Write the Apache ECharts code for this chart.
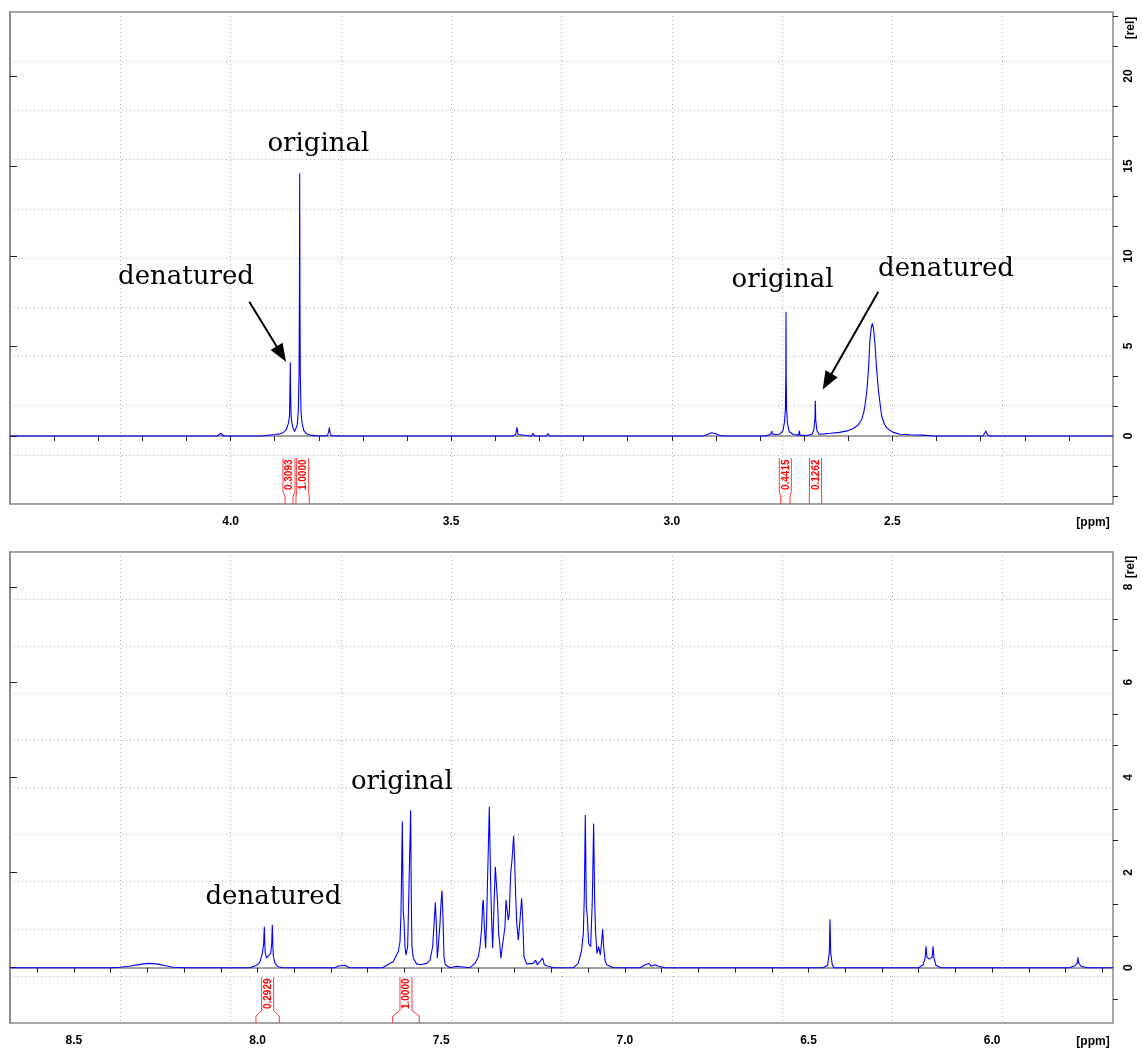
<!DOCTYPE html>
<html>
<head>
<meta charset="utf-8">
<title>1H NMR – original vs. denatured</title>
<script src="https://cdn.jsdelivr.net/npm/echarts@6/dist/echarts.min.js"></script>
<style>
  html, body { margin: 0; padding: 0; background: #ffffff; }
  #chart { width: 1142px; height: 1050px; }
</style>
</head>
<body>
<div id="chart"></div>
<script>
// ---------- aliphatic region (upper panel) ----------
const topRange = [2.0, 4.5];                 // ppm shown
const topYRange = [-3.778, 23.556];          // rel. intensity shown
const topXTicks = [4.4, 4.3, 4.2, 4.1, 4.0, 3.9, 3.8, 3.7, 3.6, 3.5, 3.4, 3.3, 3.2, 3.1, 3.0,
                   2.9, 2.8, 2.7, 2.6, 2.5, 2.4, 2.3, 2.2, 2.1];
const topXLabels = [4.0, 3.5, 3.0, 2.5];
const topYLabels = [0, 5, 10, 15, 20];
const topYMinor = [-3.33, -1.67, 1.67, 3.33, 6.67, 8.33, 11.67, 13.33, 16.67, 18.33, 21.67, 23.33];

// [ppm, intensity]
const topSpectrum = [
  [4.50, 0.00], [4.30, 0.00], [4.03, 0.00], [4.026, 0.05], [4.0224, 0.15], [4.019, 0.05], [4.015, 0.00],
  [3.93, 0.00], [3.915, 0.04], [3.90, 0.08], [3.888, 0.12], [3.880, 0.20], [3.874, 0.35], [3.869, 0.70],
  [3.8665, 1.10], [3.8655, 2.60], [3.8647, 4.10], [3.8640, 2.40], [3.8630, 1.20], [3.861, 0.70],
  [3.858, 0.40], [3.855, 0.25], [3.852, 0.30], [3.849, 0.60], [3.8465, 1.40], [3.8448, 3.60],
  [3.8440, 8.00], [3.8434, 14.60], [3.8428, 7.50], [3.8420, 3.40], [3.8405, 1.40], [3.838, 0.70],
  [3.834, 0.30], [3.828, 0.12], [3.82, 0.05], [3.80, 0.00], [3.781, 0.02], [3.778, 0.20], [3.7763, 0.47],
  [3.7748, 0.20], [3.772, 0.02], [3.75, 0.00], [3.7425, 0.00], [3.7407, 0.09], [3.739, 0.00],
  [3.705, 0.00], [3.7029, 0.08], [3.701, 0.00], [3.682, 0.00], [3.6802, 0.07], [3.678, 0.00],
  [3.66, 0.00], [3.6575, 0.09], [3.655, 0.00], [3.36, 0.00], [3.354, 0.08], [3.3509, 0.48],
  [3.3485, 0.08], [3.344, 0.00], [3.318, 0.00], [3.3146, 0.15], [3.311, 0.00], [3.284, 0.00],
  [3.2806, 0.14], [3.277, 0.00], [2.93, 0.00], [2.92, 0.07], [2.91, 0.18], [2.90, 0.12], [2.89, 0.02],
  [2.88, 0.00], [2.79, 0.00], [2.78, 0.05], [2.7745, 0.12], [2.7736, 0.28], [2.7725, 0.12], [2.765, 0.08],
  [2.755, 0.10], [2.748, 0.30], [2.7445, 0.80], [2.7425, 1.50], [2.7416, 3.50], [2.7412, 6.90],
  [2.7407, 3.20], [2.7398, 1.50], [2.7378, 0.70], [2.734, 0.25], [2.725, 0.08], [2.7125, 0.05],
  [2.711, 0.28], [2.7095, 0.05], [2.695, 0.03], [2.682, 0.10], [2.678, 0.35], [2.6755, 1.00],
  [2.6747, 1.96], [2.6738, 0.90], [2.671, 0.30], [2.666, 0.10], [2.655, 0.12], [2.64, 0.15],
  [2.62, 0.20], [2.60, 0.30], [2.589, 0.42], [2.578, 0.60], [2.570, 0.90], [2.565, 1.30], [2.561, 1.90],
  [2.558, 2.50], [2.554, 3.80], [2.551, 5.30], [2.548, 6.00], [2.5456, 6.25], [2.543, 6.00],
  [2.5394, 5.10], [2.536, 3.80], [2.532, 2.60], [2.528, 1.80], [2.5243, 1.10], [2.518, 0.65],
  [2.5129, 0.45], [2.505, 0.30], [2.498, 0.20], [2.483, 0.10], [2.46, 0.07], [2.43, 0.05], [2.419, 0.03],
  [2.41, 0.00], [2.295, 0.00], [2.2905, 0.08], [2.2878, 0.28], [2.285, 0.08], [2.28, 0.00], [2.00, 0.00]
];

// integral regions [from ppm, to ppm] and their values
const topIntegralRanges = [[3.8767, 3.8586], [3.8518, 3.8216], [2.7532, 2.7321], [2.6884, 2.6603]];
const topIntegralLabels = ['0.3093', '1.0000', '0.4415', '0.1262'];

// annotation texts [ppm, intensity, text]
const topNotes = [[3.801, 16.2, 'original'], [4.101, 8.8, 'denatured'],
                  [2.749, 8.65, 'original'], [2.3785, 9.25, 'denatured']];
// arrows [from ppm, from intensity, to ppm, to intensity]
const topArrows = [[3.9576, 7.46, 3.8744, 4.13], [2.532, 8.02, 2.658, 2.59]];

// ---------- aromatic region (lower panel) ----------
const bottomRange = [5.671, 8.674];
const bottomYRange = [-1.162, 8.733];
const bottomXTicks = [8.6, 8.5, 8.4, 8.3, 8.2, 8.1, 8.0, 7.9, 7.8, 7.7, 7.6, 7.5, 7.4, 7.3, 7.2, 7.1, 7.0,
                      6.9, 6.8, 6.7, 6.6, 6.5, 6.4, 6.3, 6.2, 6.1, 6.0, 5.9, 5.8, 5.7];
const bottomXLabels = [8.5, 8.0, 7.5, 7.0, 6.5, 6.0];
const bottomYLabels = [0, 2, 4, 6, 8];
const bottomYMinor = [-0.67, 0.67, 1.33, 2.67, 3.33, 4.67, 5.33, 6.67, 7.33];

const bottomSpectrum = [
  [8.674, 0.00], [8.40, 0.00], [8.375, 0.01], [8.35, 0.03], [8.32, 0.07], [8.2975, 0.09], [8.275, 0.08],
  [8.25, 0.04], [8.229, 0.01], [8.20, 0.00], [8.02, 0.00], [8.0023, 0.05], [7.9934, 0.12], [7.9871, 0.30],
  [7.9835, 0.50], [7.9816, 0.86], [7.9800, 0.45], [7.979, 0.30], [7.9751, 0.20], [7.9707, 0.25],
  [7.9642, 0.30], [7.9615, 0.50], [7.9598, 0.90], [7.958, 0.40], [7.9571, 0.25], [7.9525, 0.09],
  [7.9435, 0.02], [7.93, 0.00], [7.79, 0.00], [7.7802, 0.035], [7.775, 0.01], [7.762, 0.05], [7.757, 0.05],
  [7.75, 0.00], [7.66, 0.00], [7.6304, 0.13], [7.6168, 0.34], [7.6122, 0.55], [7.6095, 1.14],
  [7.6059, 3.07], [7.6032, 1.14], [7.6014, 1.00], [7.5986, 0.44], [7.5959, 0.27], [7.5914, 0.44],
  [7.5896, 1.04], [7.5868, 1.00], [7.5832, 3.31], [7.5814, 1.42], [7.5796, 0.44], [7.576, 0.20],
  [7.5669, 0.08], [7.5578, 0.06], [7.5396, 0.09], [7.5306, 0.16], [7.5233, 0.44], [7.5188, 1.00],
  [7.5160, 1.37], [7.5133, 0.93], [7.5106, 0.20], [7.5079, 0.44], [7.5033, 0.93], [7.5006, 1.35],
  [7.4979, 1.62], [7.4952, 1.07], [7.4925, 0.23], [7.4888, 0.06], [7.4761, 0.00], [7.4580, 0.03],
  [7.4217, 0.00], [7.4081, 0.09], [7.3990, 0.23], [7.3944, 0.44], [7.3899, 0.83], [7.3872, 1.35],
  [7.3854, 1.42], [7.3826, 0.86], [7.3790, 0.41], [7.3763, 1.00], [7.3736, 1.91], [7.3690, 3.38],
  [7.3654, 1.77], [7.3627, 1.00], [7.3600, 0.41], [7.3563, 1.28], [7.3527, 2.12], [7.3500, 2.16],
  [7.3463, 1.35], [7.3436, 0.72], [7.3400, 0.44], [7.3373, 0.20], [7.3336, 0.44], [7.3300, 0.48],
  [7.3264, 0.86], [7.3236, 1.42], [7.3200, 1.46], [7.3173, 1.00], [7.3146, 1.14], [7.3109, 1.98],
  [7.3073, 2.26], [7.3028, 2.77], [7.3001, 2.26], [7.2973, 1.53], [7.2946, 0.97], [7.2901, 0.58],
  [7.2855, 1.00], [7.2810, 1.46], [7.2783, 1.07], [7.2746, 0.23], [7.2674, 0.08], [7.2492, 0.09],
  [7.2429, 0.16], [7.2383, 0.06], [7.2311, 0.13], [7.2238, 0.20], [7.2193, 0.06], [7.2129, 0.04],
  [7.1948, 0.00], [7.1403, 0.00], [7.1267, 0.09], [7.1177, 0.37], [7.1131, 0.72], [7.1104, 1.50],
  [7.1077, 3.21], [7.1049, 1.28], [7.1022, 1.07], [7.0986, 0.51], [7.0931, 0.44], [7.0886, 1.42],
  [7.0850, 3.03], [7.0823, 1.42], [7.0795, 0.72], [7.0759, 0.30], [7.0714, 0.44], [7.0668, 0.27],
  [7.0632, 0.55], [7.0605, 0.81], [7.0578, 0.44], [7.0541, 0.16], [7.0496, 0.06], [7.0314, 0.00],
  [6.9588, 0.00], [6.9452, 0.06], [6.9334, 0.09], [6.9289, 0.03], [6.918, 0.06], [6.9089, 0.03],
  [6.89, 0.00], [6.46, 0.00], [6.448, 0.05], [6.4435, 0.30], [6.4415, 1.02], [6.4395, 0.30],
  [6.435, 0.05], [6.43, 0.00], [6.20, 0.00], [6.188, 0.06], [6.1825, 0.20], [6.1801, 0.45],
  [6.1775, 0.22], [6.171, 0.18], [6.1635, 0.22], [6.161, 0.45], [6.1585, 0.20], [6.153, 0.05],
  [6.14, 0.00], [5.79, 0.00], [5.775, 0.04], [5.768, 0.10], [5.7663, 0.22], [5.7645, 0.10],
  [5.758, 0.03], [5.74, 0.00], [5.671, 0.00]
];

const bottomIntegralRanges = [[8.0043, 7.9408], [7.6321, 7.5597]];
const bottomIntegralLabels = ['0.2929', '1.0000'];

const bottomNotes = [[7.607, 3.89, 'original'], [7.957, 1.485, 'denatured']];

// ---------- styling ----------
const BLUE = '#0000ff';
const RED = '#ff0000';
const FRAME = '#858585';
const GRIDLINE = '#b4b4b4';
const TICK_FONT = '"Liberation Sans Narrow", "Liberation Sans", Arial, sans-serif';
const NOTE_FONT = '"DejaVu Serif", "Liberation Serif", serif';

const grids = [
  { left: 10, top: 12, width: 1103, height: 492 },
  { left: 10, top: 552, width: 1103, height: 471 }
];

function mainX(gridIndex, range, ticks, labels) {
  return {
    type: 'value', gridIndex, inverse: true, min: range[0], max: range[1], position: 'bottom',
    axisLine: { show: true, lineStyle: { color: FRAME, width: 1.5 } },
    axisTick: { show: true, inside: false, length: 5, customValues: ticks,
                lineStyle: { color: '#222', width: 1 } },
    axisLabel: { show: true, customValues: labels, margin: 12, color: '#000',
                 fontFamily: TICK_FONT, fontWeight: 'bold', fontSize: 12,
                 formatter: v => Number(v).toFixed(1) },
    splitLine: { show: false }
  };
}
function helperX(gridIndex) {
  return {
    type: 'value', gridIndex, min: 0, max: 10, interval: 1, position: 'top',
    axisLine: { show: false }, axisTick: { show: false }, axisLabel: { show: false },
    splitLine: { show: true, lineStyle: { color: GRIDLINE, type: [1, 3], width: 1 } }
  };
}
function mainY(gridIndex, range, labels) {
  return {
    type: 'value', gridIndex, min: range[0], max: range[1], position: 'right',
    axisLine: { show: true, lineStyle: { color: FRAME, width: 1.5 } },
    axisTick: { show: true, inside: false, length: 7, customValues: labels,
                lineStyle: { color: '#222', width: 1 } },
    axisLabel: { show: true, customValues: labels, rotate: 90, margin: 10, color: '#000',
                 fontFamily: TICK_FONT, fontWeight: 'bold', fontSize: 12 },
    splitLine: { show: false }
  };
}
function minorY(gridIndex, range, minors) {
  return {
    type: 'value', gridIndex, min: range[0], max: range[1], position: 'right',
    axisLine: { show: false },
    axisTick: { show: true, inside: false, length: 5, customValues: minors,
                lineStyle: { color: '#222', width: 1 } },
    axisLabel: { show: false }, splitLine: { show: false }
  };
}
function helperY(gridIndex) {
  return {
    type: 'value', gridIndex, min: 0, max: 10, interval: 1, position: 'left',
    axisLine: { show: false }, axisTick: { show: false }, axisLabel: { show: false },
    splitLine: { show: true, lineStyle: { color: GRIDLINE, type: [1, 3], width: 1 } }
  };
}

// integral bracket: open box holding the value, flaring out to the integrated range
function integralRenderer(labels) {
  return function (params, api) {
    const a = api.coord([api.value(0), 0])[0];
    const b = api.coord([api.value(1), 0])[0];
    const l = Math.min(a, b), r = Math.max(a, b);
    const cs = params.coordSys;
    const bottom = cs.y + cs.height;
    const cx = (l + r) / 2, hw = 6;
    const top = bottom - 46, boxBottom = bottom - 12.5, flare = bottom - 7;
    const lineStyle = { stroke: '#ff3a3a', lineWidth: 1, fill: null };
    return {
      type: 'group',
      children: [
        { type: 'polyline', shape: { points: [[cx - hw, top], [cx - hw, boxBottom], [l, flare], [l, bottom]] }, style: lineStyle },
        { type: 'polyline', shape: { points: [[cx + hw, top], [cx + hw, boxBottom], [r, flare], [r, bottom]] }, style: lineStyle },
        { type: 'text', x: cx + 0.5, y: (top + boxBottom) / 2, rotation: Math.PI / 2,
          style: { text: labels[params.dataIndex], fill: RED, align: 'center', verticalAlign: 'middle',
                   font: 'bold 10px "Liberation Sans", Arial, sans-serif' } }
      ]
    };
  };
}

// straight arrow with a filled triangular head ending on the target point
function arrowRenderer(params, api) {
  const p1 = api.coord([api.value(0), api.value(1)]);
  const p2 = api.coord([api.value(2), api.value(3)]);
  const dx = p2[0] - p1[0], dy = p2[1] - p1[1];
  const len = Math.hypot(dx, dy), ux = dx / len, uy = dy / len;
  const headL = 18, headW = 7;
  const base = [p2[0] - ux * headL, p2[1] - uy * headL];
  return {
    type: 'group',
    children: [
      { type: 'line', shape: { x1: p1[0], y1: p1[1], x2: base[0] + ux * 2, y2: base[1] + uy * 2 },
        style: { stroke: '#000', lineWidth: 2 } },
      { type: 'polygon', shape: { points: [p2, [base[0] - uy * headW, base[1] + ux * headW],
                                           [base[0] + uy * headW, base[1] - ux * headW]] },
        style: { fill: '#000' } }
    ]
  };
}

function noteSeries(xi, yi, notes) {
  return {
    type: 'scatter', xAxisIndex: xi, yAxisIndex: yi, symbolSize: 0, silent: true, z: 5,
    itemStyle: { opacity: 1 },
    data: notes.map(n => ({ value: [n[0], n[1]], name: n[2] })),
    label: { show: true, position: 'inside', formatter: '{b}', color: '#000', opacity: 1,
             textBorderWidth: 0, textShadowBlur: 0,
             fontFamily: NOTE_FONT, fontSize: 26 }
  };
}

const chart = echarts.init(document.getElementById('chart'), null, { renderer: 'canvas' });
chart.setOption({
  backgroundColor: '#ffffff',
  animation: false,
  grid: grids.map(g => Object.assign({ show: true, borderColor: FRAME, borderWidth: 1.5,
                                       backgroundColor: 'transparent' }, g)),
  xAxis: [
    mainX(0, topRange, topXTicks, topXLabels), helperX(0),
    mainX(1, bottomRange, bottomXTicks, bottomXLabels), helperX(1)
  ],
  yAxis: [
    mainY(0, topYRange, topYLabels), minorY(0, topYRange, topYMinor), helperY(0),
    mainY(1, bottomYRange, bottomYLabels), minorY(1, bottomYRange, bottomYMinor), helperY(1)
  ],
  series: [
    { type: 'line', xAxisIndex: 0, yAxisIndex: 0, data: topSpectrum, showSymbol: false, silent: true,
      lineStyle: { color: BLUE, width: 1.1 }, z: 3 },
    { type: 'line', xAxisIndex: 2, yAxisIndex: 3, data: bottomSpectrum, showSymbol: false, silent: true,
      lineStyle: { color: BLUE, width: 1.1 }, z: 3 },
    { type: 'custom', xAxisIndex: 0, yAxisIndex: 0, data: topIntegralRanges, encode: { x: [0, 1] },
      renderItem: integralRenderer(topIntegralLabels), silent: true, z: 4 },
    { type: 'custom', xAxisIndex: 2, yAxisIndex: 3, data: bottomIntegralRanges, encode: { x: [0, 1] },
      renderItem: integralRenderer(bottomIntegralLabels), silent: true, z: 4 },
    { type: 'custom', xAxisIndex: 0, yAxisIndex: 0, data: topArrows, encode: { x: [0, 2], y: [1, 3] },
      renderItem: arrowRenderer, silent: true, z: 6 },
    noteSeries(0, 0, topNotes),
    noteSeries(2, 3, bottomNotes)
  ],
  graphic: [
    { type: 'text', x: 1093, y: 523, style: { text: '[ppm]', align: 'center', verticalAlign: 'middle',
      font: 'bold 12px ' + TICK_FONT, fill: '#000' } },
    { type: 'text', x: 1093, y: 1042, style: { text: '[ppm]', align: 'center', verticalAlign: 'middle',
      font: 'bold 12px ' + TICK_FONT, fill: '#000' } },
    { type: 'text', x: 1131, y: 28, rotation: Math.PI / 2, style: { text: '[rel]', align: 'center',
      verticalAlign: 'middle', font: 'bold 12px ' + TICK_FONT, fill: '#000' } },
    { type: 'text', x: 1131, y: 567, rotation: Math.PI / 2, style: { text: '[rel]', align: 'center',
      verticalAlign: 'middle', font: 'bold 12px ' + TICK_FONT, fill: '#000' } }
  ]
});
</script>
</body>
</html>
